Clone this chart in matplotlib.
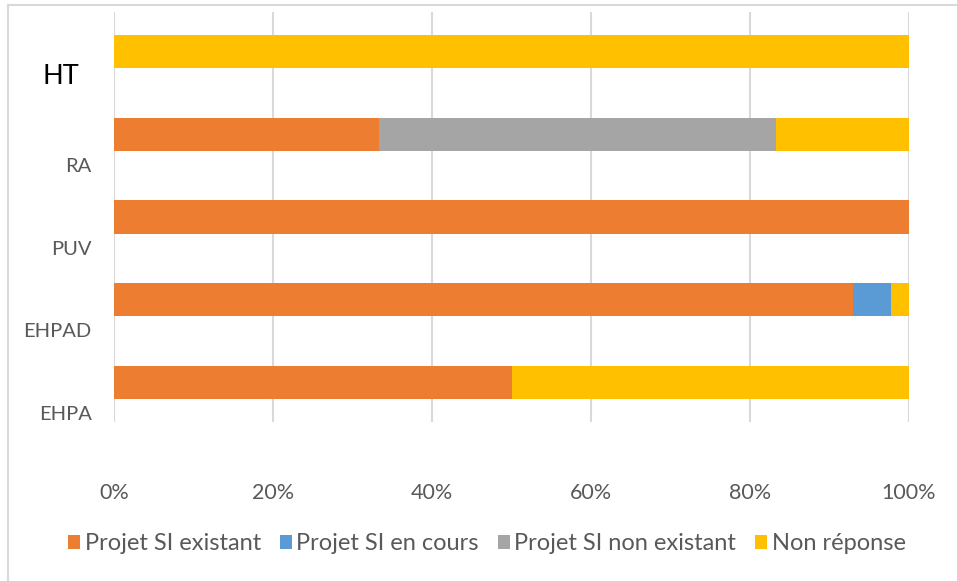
import matplotlib.pyplot as plt
from matplotlib.lines import Line2D
from matplotlib.patches import Patch
import numpy as np

categories = ['EHPA', 'EHPAD', 'PUV', 'RA', 'HT']
series = ['Projet SI existant', 'Projet SI en cours', 'Projet SI non existant', 'Non réponse']
existant = [50.0, 93.0, 100.0, 33.3, 0.0]
en_cours = [0.0, 4.7, 0.0, 0.0, 0.0]
non_existant = [0.0, 0.0, 0.0, 50.0, 0.0]
non_reponse = [50.0, 2.3, 0.0, 16.7, 100.0]
colors = ['#ED7D31', '#5B9BD5', '#A5A5A5', '#FFC000']

plt.rcParams['font.family'] = ['Lato', 'DejaVu Sans']
grey = '#595959'

fig = plt.figure(figsize=(9.57, 5.81), dpi=100)
ax = fig.add_axes([114/957, 1-422/581, 795/957, 410/581])

y = np.arange(len(categories))
left = np.zeros(len(categories))
for vals, name, c in zip([existant, en_cours, non_existant, non_reponse], series, colors):
    ax.barh(y, vals, left=left, height=0.4, color=c, label=name, zorder=3)
    left += np.array(vals)

ax.set_xlim(0, 100)
ax.set_ylim(-0.478, 4.478)
ax.set_xticks([0, 20, 40, 60, 80, 100])
ax.set_xticklabels([f'{v}%' for v in [0, 20, 40, 60, 80, 100]], color=grey, fontsize=15.5)
ax.tick_params(axis='x', length=0, pad=44)
ax.set_yticks(y - 0.37)
# HT is drawn larger and in black, a bit further left
ax.set_yticklabels(categories[:-1] + [''], color=grey, fontsize=14.5)
ax.tick_params(axis='y', length=0, pad=16)
fig.text(79/957, 1-77/581, categories[-1], ha='right', va='center', fontsize=19.5, color='black')
ax.grid(axis='x', color='#D9D9D9', linewidth=1.5, zorder=0)
for s in ax.spines.values():
    s.set_visible(False)

handles = [Patch(facecolor=c, edgecolor='none') for c in colors]
fig.legend(handles, series, loc='center', bbox_to_anchor=(487/957, 1-544/581), ncol=4,
           frameon=False, fontsize=17, labelcolor=grey, handlelength=0.5, handleheight=0.5,
           handletextpad=0.2, columnspacing=0.8)

fig.add_artist(Line2D([8/957, 1], [1-5/581, 1-5/581], color='#D9D9D9', linewidth=1.5))
fig.add_artist(Line2D([8/957, 8/957], [0, 1-5/581], color='#D9D9D9', linewidth=1.5))

fig.savefig('out.png', dpi=100)
